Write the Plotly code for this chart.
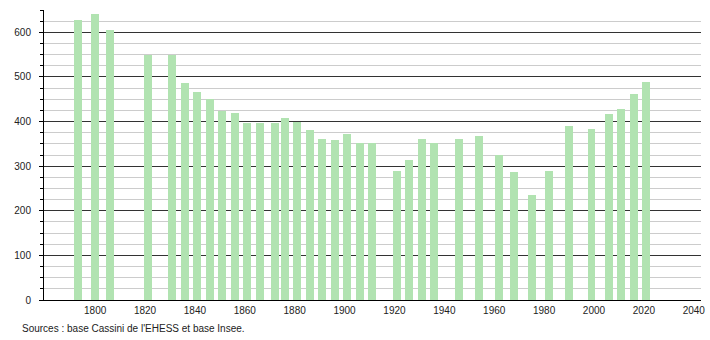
import plotly.graph_objects as go

years = [1793, 1800, 1806, 1821, 1831, 1836, 1841, 1846, 1851, 1856,
         1861, 1866, 1872, 1876, 1881, 1886, 1891, 1896, 1901, 1906,
         1911, 1921, 1926, 1931, 1936, 1946, 1954, 1962, 1968, 1975,
         1982, 1990, 1999, 2006, 2011, 2016, 2021]
population = [627, 640, 605, 550, 550, 486, 466, 450, 424, 420,
              396, 397, 396, 407, 400, 380, 361, 358, 373, 351,
              351, 290, 313, 361, 352, 361, 367, 325, 287, 236,
              290, 389, 383, 418, 427, 461, 488]
x_ticks = [1800, 1820, 1840, 1860, 1880, 1900, 1920, 1940, 1960, 1980, 2000, 2020, 2040]
y_ticks = [0, 100, 200, 300, 400, 500, 600]
source_text = "Sources : base Cassini de l'EHESS et base Insee."

fig = go.Figure()
fig.add_trace(go.Bar(
    x=years, y=population, width=3.2,
    marker=dict(color="#b1e3b1", line=dict(width=0)),
    hoverinfo="x+y",
))

W, H = 710, 340
ml, mr, mt, mb = 44, 9, 10, 40
pw, ph = W - ml - mr, H - mt - mb

fig.update_layout(
    width=W, height=H,
    margin=dict(l=ml, r=mr, t=mt, b=mb, pad=0, autoexpand=False),
    paper_bgcolor="white", plot_bgcolor="white",
    showlegend=False,
    font=dict(family="Liberation Sans, Arial, sans-serif", size=10, color="#222"),
    bargap=0,
    xaxis=dict(
        range=[1779.5, 2042.9],
        tickvals=x_ticks, ticktext=[str(v) for v in x_ticks],
        showgrid=False, zeroline=False,
        showline=True, linecolor="black", linewidth=1,
        ticks="", ticklabelstandoff=1,
        automargin=False,
        fixedrange=True,
    ),
    yaxis=dict(
        range=[0, 650],
        tickvals=y_ticks, ticktext=[str(v) for v in y_ticks],
        showgrid=True, gridcolor="#333333", gridwidth=1,
        zeroline=False,
        showline=True, linecolor="black", linewidth=1,
        ticks="outside", ticklen=4, tickcolor="black", tickwidth=1,
        ticklabelstandoff=6,
        automargin=False,
        minor=dict(dtick=25, showgrid=True, gridcolor="#cccccc", gridwidth=1,
                   ticks="outside", ticklen=3, tickcolor="black"),
        fixedrange=True,
    ),
    annotations=[dict(
        text=source_text, xref="paper", yref="paper",
        x=(20 - ml) / pw, y=(H - mb - 328) / ph,
        xanchor="left", yanchor="middle", showarrow=False,
        font=dict(size=10, color="#222"),
    )],
)

fig.write_html("out.html")
